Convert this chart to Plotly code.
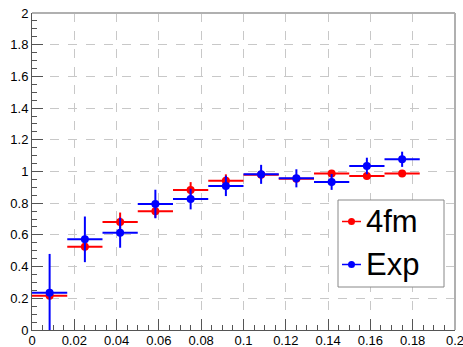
import plotly.graph_objects as go

# Bin centres (width 1/60) and half-widths
bin_centers = [0.00833, 0.025, 0.04167, 0.05833, 0.075, 0.09167,
               0.10833, 0.125, 0.14167, 0.15833, 0.175]
bin_halfwidth = [0.00833] * 11

# Model "4fm"
model_vals = [0.216, 0.526, 0.681, 0.749, 0.883, 0.942, 0.980, 0.955, 0.988, 0.972, 0.988]
model_errs = [0.02, 0.03, 0.06, 0.04, 0.05, 0.04, 0.03, 0.02, 0.02, 0.02, 0.02]

# Experimental data
exp_vals = [0.235, 0.572, 0.614, 0.795, 0.826, 0.909, 0.982, 0.957, 0.934, 1.035, 1.077]
exp_errs = [0.245, 0.144, 0.095, 0.09, 0.065, 0.064, 0.06, 0.057, 0.05, 0.052, 0.048]

series_names = ["4fm", "Exp"]
RED = "#ff0000"
BLUE = "#0000ff"

fig = go.Figure()

for vals, errs, col in [(model_vals, model_errs, RED), (exp_vals, exp_errs, BLUE)]:
    fig.add_trace(go.Scatter(
        x=bin_centers, y=vals, mode="markers", showlegend=False,
        marker=dict(color=col, size=8, symbol="circle"),
        error_x=dict(type="data", array=bin_halfwidth, color=col, thickness=2, width=0),
        error_y=dict(type="data", array=errs, color=col, thickness=2, width=0),
    ))

axis_common = dict(
    showline=True, linecolor="#555555", linewidth=1,
    ticks="inside", tickcolor="#555555", ticklen=11, tickwidth=1,
    showgrid=True, gridcolor="#c8c8c8", griddash="dash", gridwidth=1,
    zeroline=False, automargin=False,
    tickfont=dict(family="Liberation Sans, Arial", size=13, color="#000000"),
    minor=dict(ticks="inside", ticklen=5, tickcolor="#555555", showgrid=False),
    ticklabeloverflow="allow",
)

fig.update_xaxes(range=[0, 0.2], dtick=0.02, tick0=0, minor_dtick=0.005,
                 ticklabelstandoff=-2, **axis_common)
fig.update_yaxes(range=[0, 2], dtick=0.2, tick0=0, minor_dtick=0.05,
                 **axis_common)

# top and right frame lines
fig.add_shape(type="line", xref="paper", yref="paper", x0=0, x1=1, y0=1, y1=1,
              line=dict(color="#b0b0b0", width=2))
fig.add_shape(type="line", xref="paper", yref="paper", x0=1, x1=1, y0=0, y1=1,
              line=dict(color="#b0b0b0", width=2))

# Legend box drawn in paper coordinates
W, H = 423.0, 317.0
def px(xp):
    return (xp - 32) / W
def py(yp):
    return (330 - yp) / H

fig.add_shape(type="rect", xref="paper", yref="paper",
              x0=px(338), x1=px(444), y0=py(287), y1=py(200),
              fillcolor="white", line=dict(color="#888888", width=1), layer="above")
for name, col, yc in [(series_names[0], RED, 221.5), (series_names[1], BLUE, 264.5)]:
    fig.add_shape(type="line", xref="paper", yref="paper",
                  x0=px(342), x1=px(361), y0=py(yc), y1=py(yc),
                  line=dict(color=col, width=1.5), layer="above")
    fig.add_shape(type="circle", xref="paper", yref="paper",
                  x0=px(348), x1=px(355), y0=py(yc + 3.5), y1=py(yc - 3.5),
                  fillcolor=col, line=dict(color=col, width=0), layer="above")
    fig.add_annotation(xref="paper", yref="paper", x=px(364), y=py(yc),
                       xanchor="left", yanchor="middle", showarrow=False,
                       text=name,
                       font=dict(family="Liberation Sans, Arial", size=31, color="#000000"))

fig.update_layout(
    width=463, height=347,
    margin=dict(l=32, r=8, t=13, b=17),
    paper_bgcolor="white", plot_bgcolor="white",
    showlegend=False,
)

fig.write_html("out.html")
